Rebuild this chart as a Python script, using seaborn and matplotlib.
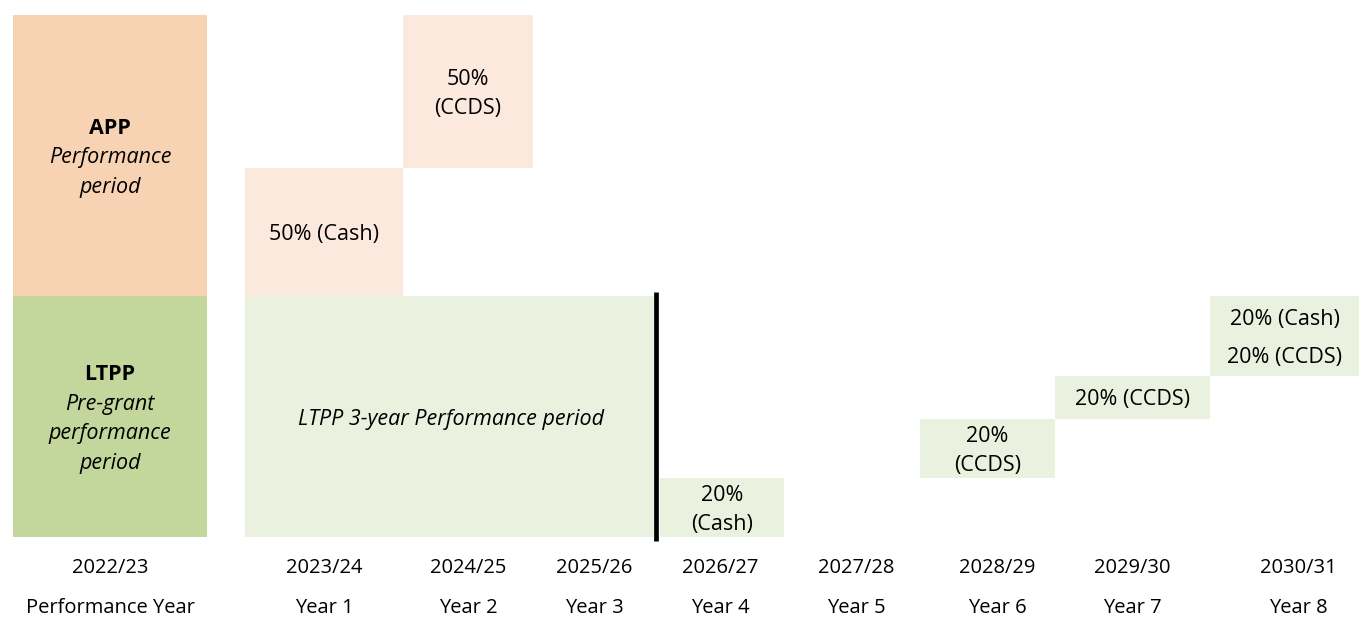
import numpy as np
import matplotlib.pyplot as plt
import seaborn as sns

# column headings along the bottom
fiscal_years = ["2022/23", "2023/24", "2024/25", "2025/26", "2026/27",
                "2027/28", "2028/29", "2029/30", "2030/31"]
year_names = ["Performance Year", "Year 1", "Year 2", "Year 3", "Year 4",
              "Year 5", "Year 6", "Year 7", "Year 8"]
col_centre = [110, 324, 468, 594, 720, 856, 997, 1132, 1298]

# boxes of the timeline (pixel grid of the picture, y counted from the top)
box_plan = ["APP head", "APP", "APP", "LTPP head", "LTPP",
            "LTPP", "LTPP", "LTPP", "LTPP"]
box_title = ["APP", "", "", "LTPP", "", "", "", "", ""]
box_lines = [
    ["Performance", "period"],
    ["50% (Cash)"],
    ["50%", "(CCDS)"],
    ["Pre-grant", "performance", "period"],
    ["LTPP 3-year Performance period"],
    ["20%", "(Cash)"],
    ["20%", "(CCDS)"],
    ["20% (CCDS)"],
    ["20% (Cash)", "20% (CCDS)"],
]
box_left = [13, 245, 403, 13, 245, 660, 920, 1055, 1210]
box_right = [207, 403, 533, 207, 657, 784, 1055, 1210, 1359]
box_top = [15, 168, 15, 296, 296, 478, 419, 376, 296]
box_bottom = [296, 296, 168, 537, 537, 537, 478, 419, 376]

vest_line_x = 656
vest_line_span = (292, 541)

palette = {"APP head": "#F8D3B3", "APP": "#FCE9DD",
           "LTPP head": "#C3D69B", "LTPP": "#EAF1DE"}

sns.set_theme(style="white")
plt.rcParams["font.family"] = ["Open Sans", "DejaVu Sans"]

fig = plt.figure(figsize=(13.59, 6.17), dpi=100)
ax = fig.add_axes([0, 0, 1, 1])
ax.set_xlim(0, 1359)
ax.set_ylim(617, 0)
ax.axis("off")

left = np.array(box_left)
width = np.array(box_right) - left
top = np.array(box_top)
height = np.array(box_bottom) - top
ax.bar(left, height, width=width, bottom=top, align="edge",
       color=[palette[p] for p in box_plan], linewidth=0)

box_fs = 15.5
label_fs = 14.5
for i in range(len(box_plan)):
    cx = (box_left[i] + box_right[i]) / 2
    cy = (box_top[i] + box_bottom[i]) / 2 + 2.5
    lines = ([box_title[i]] if box_title[i] else []) + box_lines[i]
    gap = 39 if len(box_lines[i]) == 2 and "%" in box_lines[i][1] else 29.5
    y0 = cy - (len(lines) - 1) / 2 * gap
    for j, line in enumerate(lines):
        if box_title[i] and j == 0:
            style, weight = "normal", "bold"
        elif box_title[i] or box_plan[i] == "LTPP" and "period" in line:
            style, weight = "italic", "normal"
        else:
            style, weight = "normal", "normal"
        ax.text(cx, y0 + j * gap, line, ha="center", va="center", fontsize=box_fs,
                fontstyle=style, fontweight=weight, color="black")

ax.vlines(vest_line_x, *vest_line_span, color="black", linewidth=3.4)

for x, fy, yn in zip(col_centre, fiscal_years, year_names):
    ax.text(x, 568, fy, ha="center", va="center", fontsize=label_fs, color="black")
    ax.text(x, 608, yn, ha="center", va="center", fontsize=label_fs, color="black")

fig.savefig("out.png", dpi=100)
